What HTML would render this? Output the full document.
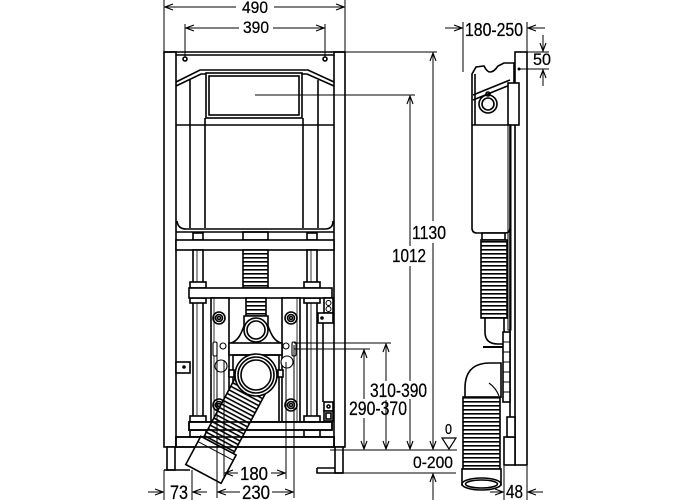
<!DOCTYPE html>
<html><head><meta charset="utf-8"><style>
html,body{margin:0;padding:0;background:#fff;}
svg{display:block;}
text{font-family:"Liberation Sans",sans-serif;fill:#000;stroke:#000;stroke-width:0.25;}
</style></head><body>
<svg width="700" height="500" viewBox="0 0 700 500" xmlns="http://www.w3.org/2000/svg">
<defs>
<marker id="ar" markerWidth="10" markerHeight="8" refX="9" refY="4" orient="auto-start-reverse" markerUnits="userSpaceOnUse"><path d="M1,1 L9,4 L1,7" fill="none" stroke="#000" stroke-width="1.1"/></marker>
<pattern id="rib" width="40" height="4" patternUnits="userSpaceOnUse"><rect width="40" height="4" fill="#fff"/><rect y="1" width="40" height="1.6" fill="#000"/></pattern>
</defs>
<rect width="700" height="500" fill="#fff"/>

<!-- ================= FRONT VIEW ================= -->
<g fill="none" stroke="#000" stroke-width="1.6">
<rect x="164" y="52" width="12" height="395" fill="#fff"/>
<rect x="334" y="52" width="11" height="395" fill="#fff"/>
<line x1="164" y1="52" x2="345" y2="52"/>
<line x1="176" y1="55" x2="334" y2="55"/>
<circle cx="185" cy="59" r="2"/><circle cx="325" cy="59" r="2"/>
<rect x="167" y="447" width="8" height="23" fill="#fff"/>
<line x1="164" y1="470" x2="190" y2="470"/>
<rect x="335" y="447" width="8" height="26" fill="#fff"/>
<path d="M317,468 H335 M317,468 V473 H343"/>

<path d="M176,82 L200,70 H308 L334,82"/>
<path d="M176,86 L201,74 H307 L334,86"/>
<rect x="206" y="73" width="96" height="45" fill="#fff"/>
<rect x="209" y="76" width="90" height="39"/>
<line x1="190" y1="80" x2="190" y2="228"/>
<line x1="318" y1="80" x2="318" y2="228"/>
<line x1="205" y1="118" x2="205" y2="228"/>
<line x1="303" y1="118" x2="303" y2="228"/>
<line x1="176" y1="125" x2="334" y2="125"/>
<path d="M177,221 Q178,229 186,229 H325 Q333,229 333,221"/>
<line x1="176" y1="232" x2="334" y2="232"/>
<rect x="193" y="233" width="10" height="7"/>
<rect x="307" y="233" width="10" height="7"/>
<rect x="243" y="232" width="25" height="8"/>

<rect x="176" y="240" width="158" height="10" fill="#fff"/>
<rect x="193" y="250" width="10" height="187" fill="#fff"/>
<rect x="307" y="250" width="10" height="187" fill="#fff"/>
<line x1="197" y1="250" x2="197" y2="437" stroke-width="0.8"/>
<line x1="311" y1="250" x2="311" y2="437" stroke-width="0.8"/>
<rect x="243" y="250" width="25" height="38" fill="url(#rib)"/>
<rect x="190" y="282" width="16" height="6" fill="#fff"/>
<rect x="304" y="282" width="16" height="6" fill="#fff"/>
<rect x="190" y="298" width="16" height="5" fill="#fff"/>
<rect x="304" y="298" width="16" height="5" fill="#fff"/>
<rect x="190" y="416" width="16" height="6" fill="#fff"/>
<rect x="304" y="416" width="16" height="6" fill="#fff"/>
<rect x="190" y="430" width="16" height="7" fill="#fff"/>
<rect x="304" y="430" width="16" height="7" fill="#fff"/>
<rect x="189" y="288" width="143" height="10" fill="#fff"/>

<rect x="211" y="298" width="18" height="124" fill="#fff"/>
<rect x="282" y="298" width="18" height="124" fill="#fff"/>
<line x1="214" y1="298" x2="214" y2="422" stroke-width="0.8"/>
<line x1="297" y1="298" x2="297" y2="422" stroke-width="0.8"/>
<circle cx="219" cy="318" r="6"/><circle cx="219" cy="318" r="3.5"/><circle cx="219" cy="318" r="1.5"/>
<circle cx="291" cy="318" r="6"/><circle cx="291" cy="318" r="3.5"/><circle cx="291" cy="318" r="1.5"/>
<circle cx="219" cy="405" r="6"/><circle cx="219" cy="405" r="3.5"/><circle cx="219" cy="405" r="1.5"/>
<circle cx="291" cy="405" r="6"/><circle cx="291" cy="405" r="3.5"/><circle cx="291" cy="405" r="1.5"/>

<rect x="246" y="298" width="20" height="18" fill="url(#rib)"/>
<path d="M231,343 C238,341 241,334 244,326 L244,316 H268 L268,326 C271,334 274,341 281,343" fill="#fff"/>
<circle cx="256" cy="330" r="12" fill="#fff"/><circle cx="256" cy="330" r="9"/>
<rect x="229" y="343" width="53" height="12" fill="#fff"/>
<rect x="233" y="355" width="46" height="67"/>
<rect x="229" y="370" width="5" height="7" fill="#fff"/>
<rect x="278" y="370" width="5" height="7" fill="#fff"/>

<rect x="189" y="422" width="143" height="8" fill="#fff"/>
<rect x="176" y="437" width="158" height="10" fill="#fff"/>

<g transform="translate(256,375) rotate(28)">
<rect x="-17" y="12" width="34" height="70" fill="url(#rib)"/>
<rect x="-20" y="80" width="40" height="32" fill="#fff"/>
<line x1="-20" y1="86" x2="20" y2="86" stroke-width="0.9"/>
</g>
<rect x="189" y="422" width="143" height="8"/>
<rect x="176" y="437" width="158" height="10"/>
<circle cx="256" cy="375" r="21" fill="#fff"/><circle cx="256" cy="375" r="18"/><circle cx="256" cy="375" r="15"/>

<rect x="213" y="342" width="4" height="14" rx="1.5" fill="#fff" stroke-width="1.1"/>
<circle cx="223" cy="346" r="3" fill="#fff" stroke-width="1.1"/>
<rect x="292" y="342" width="4" height="14" rx="1.5" fill="#fff" stroke-width="1.1"/>
<circle cx="286" cy="346" r="3" fill="#fff" stroke-width="1.1"/>
<circle cx="221" cy="366" r="6" fill="#fff" stroke-width="1.1"/>
<circle cx="287" cy="362" r="6" fill="#fff" stroke-width="1.1"/>

<rect x="324" y="298" width="9" height="15" fill="#fff"/>
<circle cx="328.5" cy="303" r="2.5" stroke-width="1"/><circle cx="328.5" cy="309" r="2.5" stroke-width="1"/>
<rect x="318" y="313" width="15" height="10" fill="#fff"/>
<circle cx="322" cy="318" r="1" fill="#000"/>
<line x1="323" y1="323" x2="323" y2="402"/>
<rect x="324" y="402" width="9" height="9" fill="#fff"/><circle cx="328.5" cy="406.5" r="1.5"/>
<rect x="324" y="411" width="9" height="10" fill="#fff"/><rect x="326" y="413" width="5" height="6"/>
<rect x="176" y="362" width="14" height="11" fill="#fff"/>
<circle cx="184" cy="367" r="1" fill="#000"/>
</g>

<!-- ================= SIDE VIEW ================= -->
<g fill="none" stroke="#000" stroke-width="1.6">
<rect x="515" y="52" width="12" height="413" fill="#fff"/>
<line x1="510" y1="85" x2="510" y2="437"/>
<rect x="504" y="437" width="11" height="28" fill="#fff"/>
<rect x="507" y="417" width="8" height="20" fill="#fff"/>
<path d="M472,125 V74 L476,67 L484,66 Q487,72 490,72 Q494,72 498,66 L504,63 H514 V125" fill="#fff"/>
<line x1="475" y1="74" x2="475" y2="125"/>
<line x1="473" y1="95" x2="510" y2="80"/>
<line x1="473" y1="100" x2="510" y2="85"/>
<circle cx="488" cy="104" r="9"/><circle cx="488" cy="104" r="6"/>
<circle cx="488" cy="94" r="2"/>
<rect x="508" y="83" width="11" height="42" fill="#fff"/>
<path d="M472,125 H510 V228 Q510,233 505,233 H477 Q472,233 472,228 Z" fill="#fff"/>
<rect x="482" y="233" width="23" height="7" fill="#fff"/>
<rect x="481" y="240" width="26" height="78" fill="url(#rib)"/>
<path d="M485,318 V332 Q485,344 498,344 H510 M504,318 V330 Q504,334 510,334"/>
<line x1="483" y1="347" x2="510" y2="347" stroke-width="2"/>
<rect x="503" y="332" width="7" height="70" fill="#fff"/>
<path d="M503,342 H510 M503,352 H510 M503,362 H510 M503,372 H510 M503,382 H510 M503,392 H510" stroke-width="1"/>
<rect x="508" y="125" width="3" height="205" stroke-width="1"/>
<path d="M465,400 V388 Q465,363 490,363 H501 V398" fill="#fff"/>
<path d="M489,383 Q496,388 499,396" stroke-width="1.1"/>
<rect x="463" y="397" width="37" height="72" fill="url(#rib)"/>
<rect x="462" y="469" width="39" height="16" fill="#fff"/>
<ellipse cx="481.5" cy="484" rx="19.5" ry="6" fill="#fff"/>
<ellipse cx="481.5" cy="484" rx="16" ry="4"/>
</g>

<!-- ================= DIMENSIONS ================= -->
<g fill="none" stroke="#000" stroke-width="1">
<line x1="164" y1="0" x2="164" y2="52"/><line x1="345" y1="0" x2="345" y2="52"/>
<line x1="236" y1="7" x2="165" y2="7" marker-end="url(#ar)"/>
<line x1="274" y1="7" x2="344" y2="7" marker-end="url(#ar)"/>
<line x1="185" y1="24" x2="185" y2="57"/><line x1="325" y1="24" x2="325" y2="57"/>
<line x1="239" y1="28" x2="186" y2="28" marker-end="url(#ar)"/>
<line x1="273" y1="28" x2="324" y2="28" marker-end="url(#ar)"/>
<line x1="345" y1="52" x2="437" y2="52"/>
<line x1="433" y1="221" x2="433" y2="53" marker-end="url(#ar)"/>
<line x1="433" y1="243" x2="433" y2="449" marker-end="url(#ar)"/>
<line x1="255" y1="95" x2="415" y2="95"/>
<line x1="410" y1="246" x2="410" y2="96" marker-end="url(#ar)"/>
<line x1="410" y1="266" x2="410" y2="381"/>
<line x1="410" y1="399" x2="410" y2="449" marker-end="url(#ar)"/>
<line x1="294" y1="343" x2="391" y2="343"/>
<line x1="386" y1="381" x2="386" y2="344" marker-end="url(#ar)"/>
<line x1="386" y1="400" x2="386" y2="449" marker-end="url(#ar)"/>
<line x1="294" y1="349" x2="370" y2="349"/>
<line x1="364" y1="399" x2="364" y2="350" marker-end="url(#ar)"/>
<line x1="364" y1="418" x2="364" y2="449" marker-end="url(#ar)"/>
<line x1="330" y1="450" x2="457" y2="450"/>
<line x1="317" y1="473" x2="456" y2="473"/>
<line x1="433" y1="500" x2="433" y2="474" marker-end="url(#ar)"/>
<path d="M442,438 H456 L449,449 Z" stroke-width="1.2"/>
<line x1="217" y1="345" x2="217" y2="498"/>
<line x1="224" y1="360" x2="224" y2="479"/>
<line x1="286" y1="362" x2="286" y2="479"/>
<line x1="294" y1="345" x2="294" y2="498"/>
<line x1="164" y1="470" x2="164" y2="500"/>
<line x1="192" y1="470" x2="192" y2="500"/>
<line x1="238" y1="473" x2="225" y2="473" marker-end="url(#ar)"/>
<line x1="271" y1="473" x2="285" y2="473" marker-end="url(#ar)"/>
<line x1="240" y1="492" x2="218" y2="492" marker-end="url(#ar)"/>
<line x1="272" y1="492" x2="293" y2="492" marker-end="url(#ar)"/>
<line x1="148" y1="492" x2="163" y2="492" marker-end="url(#ar)"/>
<line x1="207" y1="492" x2="193" y2="492" marker-end="url(#ar)"/>
<line x1="463" y1="22" x2="463" y2="72"/>
<line x1="527" y1="22" x2="527" y2="52"/>
<line x1="445" y1="28" x2="462" y2="28" marker-end="url(#ar)"/>
<line x1="545" y1="28" x2="528" y2="28" marker-end="url(#ar)"/>
<line x1="527" y1="52" x2="549" y2="52"/>
<line x1="518" y1="69" x2="549" y2="69"/>
<circle cx="519" cy="69" r="1" fill="#000"/>
<line x1="543" y1="35" x2="543" y2="51" marker-end="url(#ar)"/>
<line x1="543" y1="86" x2="543" y2="70" marker-end="url(#ar)"/>
<line x1="504" y1="466" x2="504" y2="500"/>
<line x1="527" y1="466" x2="527" y2="500"/>
<line x1="490" y1="492" x2="503" y2="492" marker-end="url(#ar)"/>
<line x1="543" y1="492" x2="528" y2="492" marker-end="url(#ar)"/>
</g>

<!-- ================= TEXT ================= -->
<text x="242" y="13" font-size="17" textLength="26" lengthAdjust="spacingAndGlyphs">490</text>
<text x="243" y="33" font-size="17" textLength="26" lengthAdjust="spacingAndGlyphs">390</text>
<text x="412" y="239" font-size="18" textLength="34" lengthAdjust="spacingAndGlyphs">1130</text>
<text x="392" y="262" font-size="18" textLength="34" lengthAdjust="spacingAndGlyphs">1012</text>
<text x="370" y="397" font-size="19" textLength="57" lengthAdjust="spacingAndGlyphs">310-390</text>
<text x="349" y="415" font-size="19" textLength="58" lengthAdjust="spacingAndGlyphs">290-370</text>
<text x="445" y="434" font-size="15" textLength="7" lengthAdjust="spacingAndGlyphs">0</text>
<text x="413" y="468" font-size="17" textLength="40" lengthAdjust="spacingAndGlyphs">0-200</text>
<text x="465" y="36" font-size="18" textLength="58" lengthAdjust="spacingAndGlyphs">180-250</text>
<text x="533" y="65" font-size="17" textLength="18" lengthAdjust="spacingAndGlyphs">50</text>
<text x="506" y="498" font-size="18" textLength="17" lengthAdjust="spacingAndGlyphs">48</text>
<text x="240" y="480" font-size="18" textLength="28" lengthAdjust="spacingAndGlyphs">180</text>
<text x="242" y="499" font-size="19" textLength="28" lengthAdjust="spacingAndGlyphs">230</text>
<text x="170" y="499" font-size="19" textLength="18" lengthAdjust="spacingAndGlyphs">73</text>
</svg>
</body></html>
